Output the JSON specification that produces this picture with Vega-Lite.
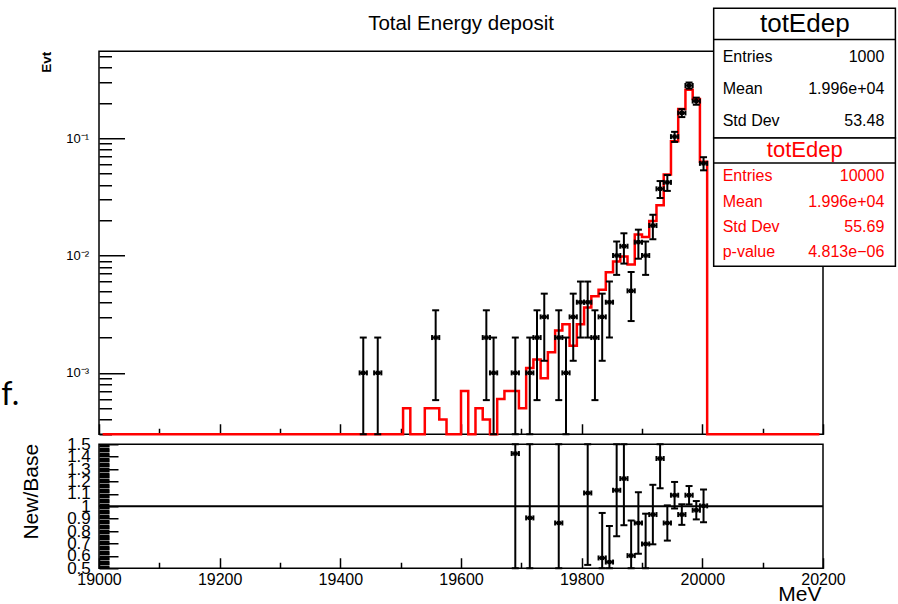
{
  "$schema": "https://vega.github.io/schema/vega-lite/v6.json",
  "background": "white",
  "padding": {"left": 0, "top": 6.25, "right": 0, "bottom": 0},
  "spacing": 10,
  "bounds": "flush",
  "config": {
    "font": "Liberation Sans",
    "view": {"stroke": "#000000", "strokeWidth": 1.5},
    "axis": {
      "grid": false,
      "domain": false,
      "tickColor": "#000000",
      "tickWidth": 1.5,
      "labelColor": "#000000",
      "titleColor": "#000000",
      "labelFont": "Liberation Sans",
      "titleFont": "Liberation Sans",
      "titleFontWeight": "normal",
      "labelOverlap": false,
      "labelFlush": false
    },
    "text": {"font": "Liberation Sans"}
  },
  "datasets": {
    "base": [
      {"e":19006,"v":0},{"e":19018,"v":0},{"e":19030,"v":0},{"e":19042,"v":0},{"e":19054,"v":0},
      {"e":19066,"v":0},{"e":19078,"v":0},{"e":19090,"v":0},{"e":19102,"v":0},{"e":19114,"v":0},
      {"e":19126,"v":0},{"e":19138,"v":0},{"e":19150,"v":0},{"e":19162,"v":0},{"e":19174,"v":0},
      {"e":19186,"v":0},{"e":19198,"v":0},{"e":19210,"v":0},{"e":19222,"v":0},{"e":19234,"v":0},
      {"e":19246,"v":0},{"e":19258,"v":0},{"e":19270,"v":0},{"e":19282,"v":0},{"e":19294,"v":0},
      {"e":19306,"v":0},{"e":19318,"v":0},{"e":19330,"v":0},{"e":19342,"v":0},{"e":19354,"v":0},
      {"e":19366,"v":0},{"e":19378,"v":0},{"e":19390,"v":0.0001},{"e":19402,"v":0},{"e":19414,"v":0},
      {"e":19426,"v":0},{"e":19438,"v":0},{"e":19450,"v":0},{"e":19462,"v":0},{"e":19474,"v":0},
      {"e":19486,"v":0},{"e":19498,"v":0.0001},{"e":19510,"v":0.0005},{"e":19522,"v":0},{"e":19534,"v":0},
      {"e":19546,"v":0.0005},{"e":19558,"v":0.0005},{"e":19570,"v":0.0004},{"e":19582,"v":0},{"e":19594,"v":0.0001},
      {"e":19606,"v":0.0007},{"e":19618,"v":0},{"e":19630,"v":0.0005},{"e":19642,"v":0.0004},{"e":19654,"v":0.0001},
      {"e":19666,"v":0.0006},{"e":19678,"v":0.0007},{"e":19690,"v":0.0007},{"e":19702,"v":0.0005},{"e":19714,"v":0.0011},
      {"e":19726,"v":0.0013},{"e":19738,"v":0.0009},{"e":19750,"v":0.0015},{"e":19762,"v":0.0023},{"e":19774,"v":0.0026},
      {"e":19786,"v":0.0017},{"e":19798,"v":0.0026},{"e":19810,"v":0.0036},{"e":19822,"v":0.0045},{"e":19834,"v":0.0051},
      {"e":19846,"v":0.0072},{"e":19858,"v":0.0089},{"e":19870,"v":0.0098},{"e":19882,"v":0.0084},{"e":19894,"v":0.0151},
      {"e":19906,"v":0.0144},{"e":19918,"v":0.0197},{"e":19930,"v":0.0268},{"e":19942,"v":0.049},{"e":19954,"v":0.0942},
      {"e":19966,"v":0.177},{"e":19978,"v":0.258},{"e":19990,"v":0.216},{"e":20002,"v":0.063},{"e":20014,"v":0},
      {"e":20026,"v":0},{"e":20038,"v":0},{"e":20050,"v":0},{"e":20062,"v":0},{"e":20074,"v":0},
      {"e":20086,"v":0},{"e":20098,"v":0},{"e":20110,"v":0},{"e":20122,"v":0},{"e":20134,"v":0},
      {"e":20146,"v":0},{"e":20158,"v":0},{"e":20170,"v":0},{"e":20182,"v":0},{"e":20194,"v":0}
    ],
    "newHist": [
      {"e":19438,"b0":19432,"b1":19444,"v":0.001,"lo":0,"hi":0.002},
      {"e":19462,"b0":19456,"b1":19468,"v":0.001,"lo":0,"hi":0.002},
      {"e":19558,"b0":19552,"b1":19564,"v":0.002,"lo":0.000586,"hi":0.003414},
      {"e":19642,"b0":19636,"b1":19648,"v":0.002,"lo":0.000586,"hi":0.003414},
      {"e":19654,"b0":19648,"b1":19660,"v":0.001,"lo":0,"hi":0.002},
      {"e":19690,"b0":19684,"b1":19696,"v":0.001,"lo":0,"hi":0.002},
      {"e":19714,"b0":19708,"b1":19720,"v":0.001,"lo":0,"hi":0.002},
      {"e":19726,"b0":19720,"b1":19732,"v":0.002,"lo":0.000586,"hi":0.003414},
      {"e":19738,"b0":19732,"b1":19744,"v":0.003,"lo":0.001268,"hi":0.004732},
      {"e":19762,"b0":19756,"b1":19768,"v":0.002,"lo":0.000586,"hi":0.003414},
      {"e":19774,"b0":19768,"b1":19780,"v":0.001,"lo":0,"hi":0.002},
      {"e":19786,"b0":19780,"b1":19792,"v":0.003,"lo":0.001268,"hi":0.004732},
      {"e":19798,"b0":19792,"b1":19804,"v":0.004,"lo":0.002,"hi":0.006},
      {"e":19810,"b0":19804,"b1":19816,"v":0.004,"lo":0.002,"hi":0.006},
      {"e":19822,"b0":19816,"b1":19828,"v":0.002,"lo":0.000586,"hi":0.003414},
      {"e":19834,"b0":19828,"b1":19840,"v":0.003,"lo":0.001268,"hi":0.004732},
      {"e":19846,"b0":19840,"b1":19852,"v":0.004,"lo":0.002,"hi":0.006},
      {"e":19858,"b0":19852,"b1":19864,"v":0.010,"lo":0.006838,"hi":0.013162},
      {"e":19870,"b0":19864,"b1":19876,"v":0.012,"lo":0.008536,"hi":0.015464},
      {"e":19882,"b0":19876,"b1":19888,"v":0.005,"lo":0.002764,"hi":0.007236},
      {"e":19894,"b0":19888,"b1":19900,"v":0.013,"lo":0.009394,"hi":0.016606},
      {"e":19906,"b0":19900,"b1":19912,"v":0.010,"lo":0.006838,"hi":0.013162},
      {"e":19918,"b0":19912,"b1":19924,"v":0.018,"lo":0.013757,"hi":0.022243},
      {"e":19930,"b0":19924,"b1":19936,"v":0.037,"lo":0.030917,"hi":0.043083},
      {"e":19942,"b0":19936,"b1":19948,"v":0.042,"lo":0.035519,"hi":0.048481},
      {"e":19954,"b0":19948,"b1":19960,"v":0.103,"lo":0.092851,"hi":0.113149},
      {"e":19966,"b0":19960,"b1":19972,"v":0.164,"lo":0.151194,"hi":0.176806},
      {"e":19978,"b0":19972,"b1":19984,"v":0.281,"lo":0.264237,"hi":0.297763},
      {"e":19990,"b0":19984,"b1":19996,"v":0.207,"lo":0.192613,"hi":0.221387},
      {"e":20002,"b0":19996,"b1":20008,"v":0.061,"lo":0.05319,"hi":0.06881}
    ],
    "ratio": [
      {"e":19690,"b0":19684,"b1":19696,"r":1.425,"lo":-0.075,"hi":2.925},
      {"e":19714,"b0":19708,"b1":19720,"r":0.906,"lo":-0.044,"hi":1.856},
      {"e":19762,"b0":19756,"b1":19768,"r":0.865,"lo":0.215,"hi":1.515},
      {"e":19810,"b0":19804,"b1":19816,"r":1.107,"lo":0.527,"hi":1.687},
      {"e":19834,"b0":19828,"b1":19840,"r":0.583,"lo":0.22,"hi":0.946},
      {"e":19846,"b0":19840,"b1":19852,"r":0.55,"lo":0.26,"hi":0.84},
      {"e":19858,"b0":19852,"b1":19864,"r":1.129,"lo":0.758,"hi":1.5},
      {"e":19870,"b0":19864,"b1":19876,"r":1.223,"lo":0.847,"hi":1.599},
      {"e":19882,"b0":19876,"b1":19888,"r":0.602,"lo":0.319,"hi":0.885},
      {"e":19894,"b0":19888,"b1":19900,"r":0.865,"lo":0.617,"hi":1.113},
      {"e":19906,"b0":19900,"b1":19912,"r":0.696,"lo":0.452,"hi":0.94},
      {"e":19918,"b0":19912,"b1":19924,"r":0.933,"lo":0.693,"hi":1.173},
      {"e":19930,"b0":19924,"b1":19936,"r":1.385,"lo":1.145,"hi":1.625},
      {"e":19942,"b0":19936,"b1":19948,"r":0.865,"lo":0.723,"hi":1.007},
      {"e":19954,"b0":19948,"b1":19960,"r":1.089,"lo":0.982,"hi":1.196},
      {"e":19966,"b0":19960,"b1":19972,"r":0.933,"lo":0.85,"hi":1.016},
      {"e":19978,"b0":19972,"b1":19984,"r":1.089,"lo":1.015,"hi":1.163},
      {"e":19990,"b0":19984,"b1":19996,"r":0.968,"lo":0.894,"hi":1.042},
      {"e":20002,"b0":19996,"b1":20008,"r":1.003,"lo":0.871,"hi":1.135}
    ],
    "statsNew": [
      {"k":"Entries","val":"1000"},
      {"k":"Mean","val":"1.996e+04"},
      {"k":"Std Dev","val":"53.48"}
    ],
    "statsBase": [
      {"k":"Entries","val":"10000"},
      {"k":"Mean","val":"1.996e+04"},
      {"k":"Std Dev","val":"55.69"},
      {"k":"p-value","val":"4.813e−06"}
    ]
  },
  "vconcat": [
    {
      "width": 724,
      "height": 383,
      "resolve": {"scale": {"y": "independent"}},
      "layer": [
        {
          "layer": [
            {
              "data": {"name": "base"},
              "mark": {"type": "line", "interpolate": "step", "color": "#ff0000", "strokeWidth": 2.5, "invalid": "show"},
              "encoding": {
                "x": {
                  "field": "e", "type": "quantitative",
                  "scale": {"domain": [19000, 20200], "nice": false, "zero": false},
                  "axis": {
                    "title": null,
                    "labels": false,
                    "values": [19000,19050,19100,19150,19200,19250,19300,19350,19400,19450,19500,19550,19600,19650,19700,19750,19800,19850,19900,19950,20000,20050,20100,20150,20200],
                    "tickSize": {"condition": [{"test": "datum.value % 200 === 0", "value": -10.5}, {"test": "datum.value % 100 === 0", "value": -6}], "value": -3.5}
                  }
                },
                "y": {
                  "field": "v", "type": "quantitative",
                  "scale": {"type": "log", "domain": [0.0003, 0.55], "clamp": true, "nice": false},
                  "axis": {
                    "title": "Evt",
                    "titleFontSize": 13.5,
                    "titleFontWeight": "bold",
                    "titleX": -48.5,
                    "titleY": 0,
                    "titleAlign": "right",
                    "titleBaseline": "alphabetic",
                    "titleAngle": 270,
                    "values": [0.0003,0.0004,0.0005,0.0006,0.0007,0.0008,0.0009,0.001,0.002,0.003,0.004,0.005,0.006,0.007,0.008,0.009,0.01,0.02,0.03,0.04,0.05,0.06,0.07,0.08,0.09,0.1,0.2,0.3,0.4,0.5],
                    "labelExpr": "datum.value === 0.1 ? '10⁻¹' : datum.value === 0.01 ? '10⁻²' : datum.value === 0.001 ? '10⁻³' : ''",
                    "labelFontSize": 13,
                    "labelPadding": 36,
                    "tickSize": {"condition": {"test": "datum.value === 0.1 || datum.value === 0.01 || datum.value === 0.001", "value": -25.5}, "value": -12.5}
                  }
                }
              }
            },
            {
              "data": {"name": "newHist"},
              "mark": {"type": "rule", "color": "#000000", "strokeWidth": 2, "invalid": "show"},
              "encoding": {
                "x": {"field": "e", "type": "quantitative"},
                "y": {"field": "lo", "type": "quantitative"},
                "y2": {"field": "hi"}
              }
            },
            {
              "data": {"name": "newHist"},
              "mark": {"type": "rule", "color": "#000000", "strokeWidth": 2, "invalid": "show"},
              "encoding": {
                "x": {"field": "b0", "type": "quantitative"},
                "x2": {"field": "b1"},
                "y": {"field": "v", "type": "quantitative"}
              }
            },
            {
              "data": {"name": "newHist"},
              "mark": {"type": "tick", "orient": "horizontal", "size": 7, "thickness": 2, "color": "#000000", "opacity": 1, "invalid": "show"},
              "encoding": {
                "x": {"field": "e", "type": "quantitative"},
                "y": {"field": "hi", "type": "quantitative"}
              }
            },
            {
              "data": {"name": "newHist"},
              "mark": {"type": "tick", "orient": "horizontal", "size": 7, "thickness": 2, "color": "#000000", "opacity": 1, "invalid": "show"},
              "encoding": {
                "x": {"field": "e", "type": "quantitative"},
                "y": {"field": "lo", "type": "quantitative"}
              }
            },
            {
              "data": {"name": "newHist"},
              "mark": {"type": "tick", "orient": "vertical", "size": 5, "thickness": 2, "color": "#000000", "opacity": 1, "invalid": "show"},
              "encoding": {
                "x": {"field": "b0", "type": "quantitative"},
                "y": {"field": "v", "type": "quantitative"}
              }
            },
            {
              "data": {"name": "newHist"},
              "mark": {"type": "tick", "orient": "vertical", "size": 5, "thickness": 2, "color": "#000000", "opacity": 1, "invalid": "show"},
              "encoding": {
                "x": {"field": "b1", "type": "quantitative"},
                "y": {"field": "v", "type": "quantitative"}
              }
            },
            {
              "data": {"name": "newHist"},
              "mark": {"type": "square", "size": 18, "color": "#000000", "opacity": 1, "invalid": "show"},
              "encoding": {
                "x": {"field": "e", "type": "quantitative"},
                "y": {"field": "v", "type": "quantitative"}
              }
            }
          ]
        },
        {
          "data": {"values": [{"title": "Total Energy deposit", "hist": "totEdep", "panel": "f."}]},
          "layer": [
            {
              "mark": {"type": "rect", "fill": "white", "stroke": "#000000", "strokeWidth": 1.5},
              "encoding": {
                "x": {"datum": 20018.8},
                "x2": {"datum": 20320},
                "y": {"datum": 1.2786, "type": "quantitative", "scale": {"type": "log", "domain": [0.0003, 0.55], "nice": false}, "axis": null},
                "y2": {"datum": 0.10038}
              }
            },
            {
              "mark": {"type": "rect", "fill": "white", "stroke": "#000000", "strokeWidth": 1.5},
              "encoding": {
                "x": {"datum": 20018.8},
                "x2": {"datum": 20320},
                "y": {"datum": 0.10038, "type": "quantitative"},
                "y2": {"datum": 0.008102}
              }
            },
            {
              "mark": {"type": "rule", "color": "#000000", "strokeWidth": 1.5},
              "encoding": {
                "x": {"datum": 20018.8},
                "x2": {"datum": 20320},
                "y": {"datum": 0.692, "type": "quantitative"}
              }
            },
            {
              "mark": {"type": "rule", "color": "#000000", "strokeWidth": 1.5},
              "encoding": {
                "x": {"datum": 20018.8},
                "x2": {"datum": 20320},
                "y": {"datum": 0.06145, "type": "quantitative"}
              }
            },
            {
              "mark": {"type": "text", "align": "center", "baseline": "alphabetic", "fontSize": 26, "color": "#000000"},
              "encoding": {
                "x": {"datum": 20169.8},
                "y": {"datum": 0.8032, "type": "quantitative"},
                "text": {"field": "hist"}
              }
            },
            {
              "mark": {"type": "text", "align": "center", "baseline": "alphabetic", "fontSize": 22, "color": "#ff0000"},
              "encoding": {
                "x": {"datum": 20169.8},
                "y": {"datum": 0.06877, "type": "quantitative"},
                "text": {"field": "hist"}
              }
            },
            {
              "mark": {"type": "text", "align": "center", "baseline": "alphabetic", "fontSize": 20.5, "color": "#000000"},
              "encoding": {
                "x": {"datum": 19600},
                "y": {"datum": 0.8419, "type": "quantitative"},
                "text": {"field": "title"}
              }
            },
            {
              "mark": {"type": "text", "align": "left", "baseline": "alphabetic", "fontSize": 32, "font": "Lato", "color": "#000000"},
              "encoding": {
                "x": {"datum": 18838},
                "y": {"datum": 0.0005374, "type": "quantitative"},
                "text": {"field": "panel"}
              }
            }
          ]
        },
        {
          "data": {"name": "statsNew"},
          "layer": [
            {
              "mark": {"type": "text", "align": "left", "baseline": "middle", "fontSize": 16, "color": "#000000"},
              "encoding": {
                "x": {"datum": 20033.7},
                "y": {"field": "k", "type": "nominal", "sort": null, "scale": {"type": "point", "range": [6, 70], "padding": 0}, "axis": null},
                "text": {"field": "k"}
              }
            },
            {
              "mark": {"type": "text", "align": "right", "baseline": "middle", "fontSize": 16, "color": "#000000"},
              "encoding": {
                "x": {"datum": 20301.6},
                "y": {"field": "k", "type": "nominal", "sort": null},
                "text": {"field": "val"}
              }
            }
          ]
        },
        {
          "data": {"name": "statsBase"},
          "layer": [
            {
              "mark": {"type": "text", "align": "left", "baseline": "middle", "fontSize": 16, "color": "#ff0000"},
              "encoding": {
                "x": {"datum": 20033.7},
                "y": {"field": "k", "type": "nominal", "sort": null, "scale": {"type": "point", "range": [125, 201], "padding": 0}, "axis": null},
                "text": {"field": "k"}
              }
            },
            {
              "mark": {"type": "text", "align": "right", "baseline": "middle", "fontSize": 16, "color": "#ff0000"},
              "encoding": {
                "x": {"datum": 20301.6},
                "y": {"field": "k", "type": "nominal", "sort": null},
                "text": {"field": "val"}
              }
            }
          ]
        }
      ]
    },
    {
      "width": 724,
      "height": 124,
      "layer": [
        {
          "data": {"values": [{"ref": 1}]},
          "mark": {"type": "rule", "color": "#000000", "strokeWidth": 2},
          "encoding": {
            "y": {
              "field": "ref", "type": "quantitative",
              "scale": {"domain": [0.5, 1.5], "clamp": true, "nice": false, "zero": false},
              "axis": {
                "title": "New/Base",
                "titleFontSize": 21,
                "titleX": -61.3,
                "titleY": 47,
                "titleAlign": "center",
                "titleBaseline": "alphabetic",
                "titleAngle": 270,
                "tickCount": 100,
                "labelExpr": "abs(datum.value * 10 - round(datum.value * 10)) < 0.001 ? format(datum.value, '~g') : ''",
                "labelFontSize": 17,
                "labelPadding": 27.7,
                "tickSize": {"condition": {"test": "abs(datum.value * 10 - round(datum.value * 10)) < 0.001", "value": -19}, "value": -10}
              }
            }
          }
        },
        {
          "data": {"name": "ratio"},
          "mark": {"type": "rule", "color": "#000000", "strokeWidth": 2},
          "encoding": {
            "x": {
              "field": "e", "type": "quantitative",
              "scale": {"domain": [19000, 20200], "nice": false, "zero": false},
              "axis": {
                "title": "MeV",
                "titleFontSize": 21,
                "titleX": 722,
                "titleY": 32,
                "titleAlign": "right",
                "titleBaseline": "alphabetic",
                "values": [19000,19050,19100,19150,19200,19250,19300,19350,19400,19450,19500,19550,19600,19650,19700,19750,19800,19850,19900,19950,20000,20050,20100,20150,20200],
                "format": "d",
                "labelExpr": "datum.value % 200 === 0 ? datum.label : ''",
                "labelFontSize": 16,
                "labelPadding": 13.5,
                "tickSize": {"condition": [{"test": "datum.value % 200 === 0", "value": -10.5}, {"test": "datum.value % 100 === 0", "value": -6}], "value": -3.5}
              }
            },
            "y": {"field": "lo", "type": "quantitative"},
            "y2": {"field": "hi"}
          }
        },
        {
          "data": {"name": "ratio"},
          "mark": {"type": "rule", "color": "#000000", "strokeWidth": 2},
          "encoding": {
            "x": {"field": "b0", "type": "quantitative"},
            "x2": {"field": "b1"},
            "y": {"field": "r", "type": "quantitative"}
          }
        },
        {
          "data": {"name": "ratio"},
          "mark": {"type": "tick", "orient": "horizontal", "size": 7, "thickness": 2, "color": "#000000", "opacity": 1},
          "encoding": {
            "x": {"field": "e", "type": "quantitative"},
            "y": {"field": "hi", "type": "quantitative"}
          }
        },
        {
          "data": {"name": "ratio"},
          "mark": {"type": "tick", "orient": "horizontal", "size": 7, "thickness": 2, "color": "#000000", "opacity": 1},
          "encoding": {
            "x": {"field": "e", "type": "quantitative"},
            "y": {"field": "lo", "type": "quantitative"}
          }
        },
        {
          "data": {"name": "ratio"},
          "mark": {"type": "tick", "orient": "vertical", "size": 5, "thickness": 2, "color": "#000000", "opacity": 1},
          "encoding": {
            "x": {"field": "b0", "type": "quantitative"},
            "y": {"field": "r", "type": "quantitative"}
          }
        },
        {
          "data": {"name": "ratio"},
          "mark": {"type": "tick", "orient": "vertical", "size": 5, "thickness": 2, "color": "#000000", "opacity": 1},
          "encoding": {
            "x": {"field": "b1", "type": "quantitative"},
            "y": {"field": "r", "type": "quantitative"}
          }
        },
        {
          "data": {"name": "ratio"},
          "mark": {"type": "square", "size": 18, "color": "#000000", "opacity": 1},
          "encoding": {
            "x": {"field": "e", "type": "quantitative"},
            "y": {"field": "r", "type": "quantitative"}
          }
        }
      ]
    }
  ]
}
